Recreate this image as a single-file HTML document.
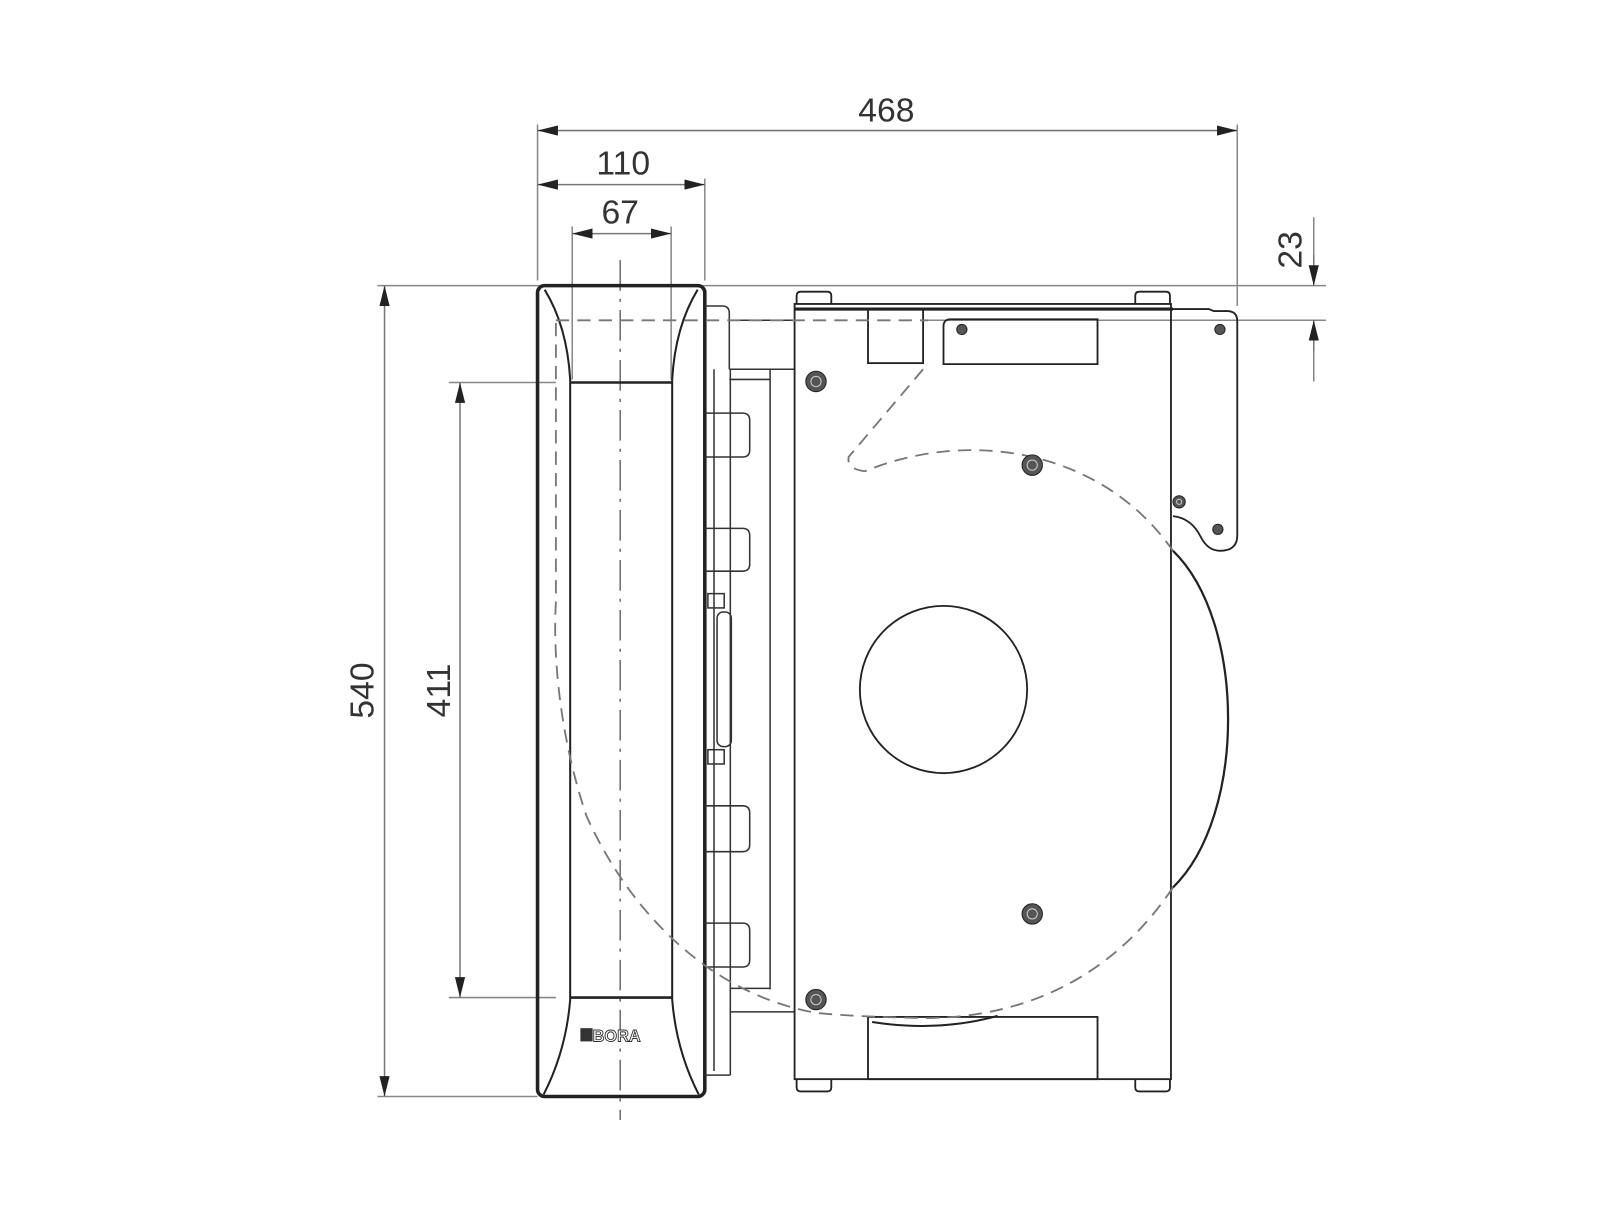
<!DOCTYPE html>
<html><head><meta charset="utf-8"><style>
html,body{margin:0;padding:0;background:#fff}
svg{display:block}
text{font-family:"Liberation Sans Narrow","Liberation Sans",sans-serif;fill:#333}
</style></head><body>
<svg width="1600" height="1205" viewBox="0 0 1600 1205" xmlns="http://www.w3.org/2000/svg">
<defs>
<marker id="a" viewBox="0 0 20 10" refX="20" refY="5" markerWidth="20" markerHeight="10" markerUnits="userSpaceOnUse" orient="auto-start-reverse"><path d="M0,0 L20,5 L0,10 Z" fill="#222"/></marker>
</defs>
<g transform="scale(1.02)">
<g stroke="#888" stroke-width="1.5" fill="none">
<line x1="527" y1="122" x2="527" y2="275"/>
<line x1="1213" y1="122" x2="1213" y2="300"/>
<line x1="691" y1="175" x2="691" y2="275"/>
<line x1="561" y1="222" x2="561" y2="372"/>
<line x1="658" y1="222" x2="658" y2="372"/>
<line x1="370" y1="280" x2="1300" y2="280"/>
<line x1="370" y1="1075" x2="527" y2="1075"/>
<line x1="440" y1="375" x2="545" y2="375"/>
<line x1="440" y1="978" x2="545" y2="978"/>
<line x1="910" y1="314" x2="1300" y2="314"/>
<line x1="1288" y1="213" x2="1288" y2="280"/>
<line x1="1288" y1="314" x2="1288" y2="374"/>
</g>
<g stroke="#777" stroke-width="1.5" fill="none">
<line x1="527" y1="128" x2="1213" y2="128" marker-start="url(#a)" marker-end="url(#a)"/>
<line x1="527" y1="181" x2="691" y2="181" marker-start="url(#a)" marker-end="url(#a)"/>
<line x1="561" y1="229" x2="658" y2="229" marker-start="url(#a)" marker-end="url(#a)"/>
<line x1="377" y1="280" x2="377" y2="1075" marker-start="url(#a)" marker-end="url(#a)"/>
<line x1="451" y1="375" x2="451" y2="978" marker-start="url(#a)" marker-end="url(#a)"/>
<line x1="1288" y1="250" x2="1288" y2="280" marker-end="url(#a)"/>
<line x1="1288" y1="344" x2="1288" y2="314" marker-end="url(#a)"/>
</g>
<g font-size="33" text-anchor="middle">
<text x="869" y="119">468</text>
<text x="611" y="171">110</text>
<text x="608" y="219">67</text>
<text transform="translate(366,677) rotate(-90)">540</text>
<text transform="translate(441,677) rotate(-90)">411</text>
<text transform="translate(1276,245) rotate(-90)">23</text>
</g>
<line x1="608" y1="255" x2="608" y2="1098" stroke="#555" stroke-width="1.3" stroke-dasharray="30,8,3,8"/>
<g stroke="#222" fill="none">
<rect x="527" y="280" width="164" height="795" rx="7" stroke-width="3.5"/>
<path d="M534,284 Q556,320 559,372 L559,980 Q555,1030 533,1073" stroke-width="2"/>
<path d="M684,284 Q662,320 659,372 L659,980 Q663,1030 685,1073" stroke-width="2"/>
<line x1="559" y1="375" x2="659" y2="375" stroke-width="2.5"/>
<line x1="559" y1="978" x2="659" y2="978" stroke-width="2.5"/>
</g>
<rect x="569" y="1008" width="12" height="13" fill="#333"/>
<text x="581" y="1021" font-size="16" font-weight="bold" style="fill:#fff;stroke:#333;stroke-width:0.9;font-family:'Liberation Sans',sans-serif">BORA</text>
<g stroke="#333" stroke-width="1.5" fill="none">
<path d="M691,300 L708,300 Q715,300 715,307 L715,362"/>
<line x1="715" y1="314" x2="779" y2="314"/>
<line x1="715" y1="362" x2="779" y2="362"/>
<line x1="715" y1="372" x2="755" y2="372"/>
<line x1="700" y1="362" x2="700" y2="1050"/>
<line x1="716" y1="362" x2="716" y2="1054"/>
<line x1="755" y1="362" x2="755" y2="970"/>
<line x1="716" y1="969" x2="755" y2="969"/>
<line x1="716" y1="992" x2="779" y2="992"/>
<line x1="691" y1="1054" x2="716" y2="1054"/>
<path d="M691,405 L728,405 Q735,405 735,412 L735,441 Q735,448 728,448 L691,448"/>
<path d="M691,518 L728,518 Q735,518 735,525 L735,553 Q735,560 728,560 L691,560"/>
<path d="M691,790 L728,790 Q735,790 735,797 L735,828 Q735,835 728,835 L691,835"/>
<path d="M691,905 L728,905 Q735,905 735,912 L735,941 Q735,948 728,948 L691,948"/>
<rect x="694" y="582" width="16" height="14"/>
<rect x="694" y="735" width="16" height="14"/>
<rect x="703" y="600" width="14" height="132" rx="6"/>
</g>
<g stroke="#222" stroke-width="1.8" fill="none">
<rect x="779" y="298" width="369" height="760"/>
<line x1="779" y1="303" x2="1150" y2="303" stroke-width="3"/>
<path d="M781,298 L781,290 Q781,286 785,286 L811,286 Q815,286 815,290 L815,298"/>
<path d="M1113,298 L1113,290 Q1113,286 1117,286 L1143,286 Q1147,286 1147,290 L1147,298"/>
<path d="M781,1058 L781,1066 Q781,1070 785,1070 L811,1070 Q815,1070 815,1066 L815,1058"/>
<path d="M1113,1058 L1113,1066 Q1113,1070 1117,1070 L1143,1070 Q1147,1070 1147,1066 L1147,1058"/>
<rect x="851" y="303" width="54" height="53"/>
<path d="M925,357 L925,320 Q925,313 932,313 L1076,313 L1076,357 Z"/>
<rect x="851" y="997" width="225" height="61"/>
<path d="M1150,303 L1185,303 L1190,305 L1203,305 Q1213,305 1213,315 L1213,525 Q1213,540 1196,540 Q1184,540 1177,526 Q1168,508 1150,506"/>
<circle cx="925" cy="676" r="82"/>
<path d="M1150,540 C1222,610 1222,800 1150,870" stroke-width="2.2"/>
<path d="M855,1002 Q920,1012 978,996" stroke-width="2"/>
</g>
<g stroke="#777" stroke-width="1.8" fill="none" stroke-dasharray="13,8">
<line x1="545" y1="314" x2="910" y2="314"/>
<path d="M905,362 L832,448 Q830,460 848,462 C950,420 1080,440 1150,540"/>
<path d="M1150,870 C1090,960 1000,1000 900,998 C860,997 830,996 800,993 C700,975 620,900 575,800 C548,720 542,640 545,590 L545,315"/>
</g>
<g>
<g fill="#555" stroke="#222" stroke-width="1">
<circle cx="800" cy="374" r="10"/><circle cx="1012" cy="456" r="10"/>
<circle cx="1012" cy="896" r="10"/><circle cx="800" cy="980" r="10"/>
<circle cx="943" cy="323" r="5"/><circle cx="1196" cy="323" r="5"/>
<circle cx="1156" cy="492" r="6"/><circle cx="1194" cy="519" r="5"/>
</g>
<g fill="none" stroke="#ccc" stroke-width="1">
<circle cx="800" cy="374" r="5"/><circle cx="1012" cy="456" r="5"/>
<circle cx="1012" cy="896" r="5"/><circle cx="800" cy="980" r="5"/>
<circle cx="1156" cy="492" r="2.5"/>
</g>
</g>
</g>
</svg>
</body></html>
